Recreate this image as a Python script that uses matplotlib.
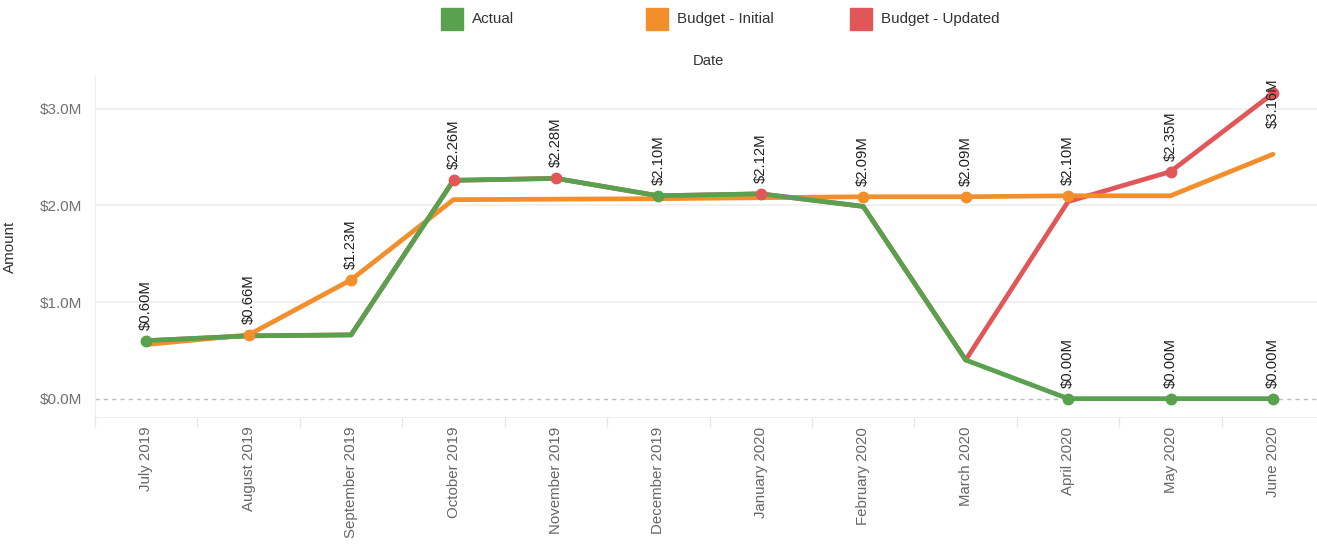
import matplotlib
matplotlib.use("Agg")
import matplotlib.pyplot as plt
from matplotlib.patches import Rectangle
from matplotlib.ticker import FuncFormatter, FixedLocator

plt.rcParams['font.family'] = ['Liberation Sans', 'DejaVu Sans']

months = ["July 2019", "August 2019", "September 2019", "October 2019", "November 2019",
          "December 2019", "January 2020", "February 2020", "March 2020", "April 2020",
          "May 2020", "June 2020"]
actual = [0.60, 0.65, 0.66, 2.26, 2.28, 2.10, 2.12, 1.99, 0.40, 0.00, 0.00, 0.00]
budget_initial = [0.56, 0.66, 1.23, 2.06, 2.065, 2.07, 2.08, 2.09, 2.09, 2.10, 2.10, 2.53]
budget_updated = [0.60, 0.65, 0.66, 2.26, 2.28, 2.10, 2.12, 1.99, 0.40, 2.04, 2.35, 3.16]
# series whose point carries the data label in each month
label_series = ["Actual", "Budget - Initial", "Budget - Initial", "Budget - Updated",
                "Budget - Updated", "Actual", "Budget - Updated", "Budget - Initial",
                "Budget - Initial", "Budget - Initial", "Budget - Updated", "Budget - Updated"]
# months where the zero Actual also gets a label
zero_label_months = ["April 2020", "May 2020", "June 2020"]

series = {"Actual": actual, "Budget - Initial": budget_initial, "Budget - Updated": budget_updated}
colors = {"Actual": "#59a14f", "Budget - Initial": "#f28e2b", "Budget - Updated": "#e15759"}
order = ["Budget - Updated", "Budget - Initial", "Actual"]

W, H = 1317, 544
fig = plt.figure(figsize=(W / 100, H / 100), dpi=100)
ax_left, ax_top, ax_bottom = 95, 76, 417
ax = fig.add_axes([ax_left / W, 1 - ax_bottom / H, (W - ax_left) / W, (ax_bottom - ax_top) / H])

x = list(range(len(months)))
ylim = (-0.19, 3.34)
ax.set_ylim(*ylim)
ax.set_xlim(-0.5, 11.43)

for y in [1, 2, 3]:
    ax.axhline(y, color="#efefef", lw=1.3, zorder=0)
ax.axhline(0, color="#bdbdbd", lw=1.0, ls=(0, (3, 3)), zorder=0.5)

z = {"Budget - Updated": 2, "Budget - Initial": 3, "Actual": 4}
for name in order:
    ax.plot(x, series[name], color=colors[name], lw=3.4, solid_capstyle="round",
            solid_joinstyle="round", zorder=z[name])

def fmt(v):
    return f"${v:.2f}M"

lab_fs = 10.7
text_h = 0.53
for i, name in enumerate(label_series):
    v = series[name][i]
    ax.plot(i, v, "o", color=colors[name], ms=7.5, zorder=6)
    bottom = v + 0.115
    if bottom + text_h > ylim[1]:
        ax.text(i, ylim[1] - 0.02, fmt(v), rotation=90, ha="center", va="top",
                fontsize=lab_fs, color="#222222", zorder=7)
    else:
        ax.text(i, bottom, fmt(v), rotation=90, ha="center", va="bottom",
                fontsize=lab_fs, color="#222222", zorder=7)

for m in zero_label_months:
    i = months.index(m)
    v = actual[i]
    ax.plot(i, v, "o", color=colors["Actual"], ms=7.5, zorder=6)
    ax.text(i, v + 0.115, fmt(v), rotation=90, ha="center", va="bottom",
            fontsize=lab_fs, color="#222222", zorder=7)

ax.set_yticks([0, 1, 2, 3])
ax.yaxis.set_major_formatter(FuncFormatter(lambda v, p: f"${v:.1f}M"))
ax.tick_params(axis="y", length=0, pad=9, labelsize=11, labelcolor="#707070")

ax.set_xticks(x)
ax.set_xticklabels(months, rotation=90, fontsize=10.8, color="#666666")
ax.tick_params(axis="x", which="major", length=0, pad=7)
ax.xaxis.set_minor_locator(FixedLocator([k + 0.5 for k in range(-1, 12)]))
ax.tick_params(axis="x", which="minor", length=7, width=1, color="#e6e6e6")

for s in ["top", "right"]:
    ax.spines[s].set_visible(False)
ax.spines["left"].set_color("#eeeeee")
ax.spines["bottom"].set_color("#eeeeee")

ax.set_ylabel("Amount", fontsize=10.9, color="#333333")
ax.yaxis.set_label_coords(-(95 - 17) / (W - 95), 0.5)

fig.text(708 / W, 1 - 61 / H, "Date", ha="center", va="center", fontsize=10.6, color="#333333")

legend_items = [("Actual", 441), ("Budget - Initial", 646), ("Budget - Updated", 850)]
for name, px in legend_items:
    fig.patches.append(Rectangle((px / W, 1 - 30 / H), 22 / W, 22 / H,
                                 transform=fig.transFigure, color=colors[name]))
    fig.text((px + 31) / W, 1 - 19 / H, name, ha="left", va="center",
             fontsize=10.9, color="#333333")

fig.savefig("out.png", dpi=100)
